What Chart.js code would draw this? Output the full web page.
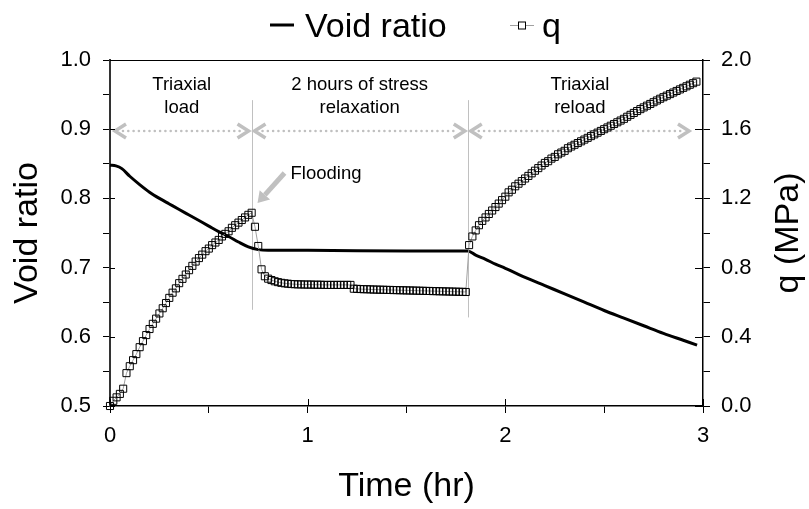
<!DOCTYPE html>
<html lang="en">
<head>
<meta charset="UTF-8">
<title>Void ratio and q vs time</title>
<script src="https://cdn.jsdelivr.net/npm/chart.js"></script>
<style>
  body { margin: 0; background: #fff; }
  #wrap { width: 809px; height: 509px; }
</style>
</head>
<body>
<div id="wrap"><canvas id="myChart" width="809" height="509"></canvas></div>
<script>
const FONT = '"Liberation Sans", Arial, sans-serif';

// void ratio (time in hr)
const eTime = [0, 0.03, 0.06, 0.10, 0.15, 0.20, 0.25, 0.30, 0.35, 0.40, 0.45, 0.50, 0.55, 0.60, 0.65, 0.70, 0.75, 0.80,
  1.00, 1.50, 1.81, 1.85, 1.90, 1.95, 2.00, 2.10, 2.20, 2.30, 2.40, 2.50, 2.60, 2.70, 2.80, 2.90, 2.97];
const eValue = [0.848, 0.847, 0.843, 0.832, 0.820, 0.809, 0.800, 0.792, 0.784, 0.776, 0.768, 0.760, 0.752, 0.745, 0.737, 0.730, 0.726, 0.725,
  0.725, 0.724, 0.724, 0.718, 0.712, 0.705, 0.699, 0.686, 0.674, 0.662, 0.650, 0.638, 0.627, 0.616, 0.605, 0.595, 0.588];

// q readings, one per minute (MPa)
const qMinute = [0, 1, 2, 3, 4, 5, 6, 7, 8, 9, 10, 11, 12, 13, 14, 15, 16, 17, 18, 19, 20, 21, 22, 23, 24, 25, 26, 27, 28, 29,
  30, 31, 32, 33, 34, 35, 36, 37, 38, 39, 40, 41, 42, 43, 44, 45, 46, 47, 48, 49, 50, 51, 52, 53, 54, 55, 56, 57, 58, 59,
  60, 61, 62, 63, 64, 65, 66, 67, 68, 69, 70, 71, 72, 73, 74, 75, 76, 77, 78, 79, 80, 81, 82, 83, 84, 85, 86, 87, 88, 89,
  90, 91, 92, 93, 94, 95, 96, 97, 98, 99, 100, 101, 102, 103, 104, 105, 106, 107, 108, 109, 110, 111, 112, 113, 114, 115, 116, 117, 118, 119,
  120, 121, 122, 123, 124, 125, 126, 127, 128, 129, 130, 131, 132, 133, 134, 135, 136, 137, 138, 139, 140, 141, 142, 143, 144, 145, 146, 147, 148, 149,
  150, 151, 152, 153, 154, 155, 156, 157, 158, 159, 160, 161, 162, 163, 164, 165, 166, 167, 168, 169, 170, 171, 172, 173, 174, 175, 176, 177, 178];
const qValue = [
  // triaxial load
  0.00, 0.03, 0.05, 0.07, 0.10, 0.19, 0.23, 0.265, 0.30, 0.34, 0.375, 0.41, 0.445, 0.475, 0.505, 0.535, 0.565, 0.595, 0.625, 0.655,
  0.68, 0.71, 0.735, 0.76, 0.785, 0.81, 0.835, 0.855, 0.875, 0.895, 0.91, 0.93, 0.945, 0.96, 0.98, 0.995, 1.01, 1.03, 1.045, 1.06,
  1.075, 1.09, 1.105, 1.117,
  // flooding + relaxation
  1.036, 0.925, 0.79, 0.75, 0.736, 0.728, 0.721, 0.716, 0.712, 0.709, 0.707, 0.705,
  0.704, 0.703, 0.703, 0.702, 0.702, 0.702, 0.701, 0.701, 0.701, 0.700, 0.700, 0.700, 0.700, 0.700, 0.700, 0.700, 0.700, 0.700,
  0.678, 0.677, 0.676, 0.675, 0.675, 0.674, 0.673, 0.673, 0.672, 0.672, 0.671, 0.671, 0.670, 0.670, 0.669, 0.669, 0.668, 0.668,
  0.667, 0.667, 0.666, 0.666, 0.665, 0.665, 0.664, 0.664, 0.663, 0.663, 0.662, 0.662, 0.661, 0.661, 0.660, 0.660, 0.659,
  // reload
  0.93, 0.98, 1.015, 1.045, 1.07, 1.09, 1.11, 1.13, 1.15, 1.17, 1.19, 1.21, 1.235, 1.25, 1.27, 1.285, 1.30, 1.315, 1.33, 1.345,
  1.36, 1.375, 1.39, 1.405, 1.415, 1.43, 1.44, 1.455, 1.465, 1.475, 1.49, 1.50, 1.51, 1.52, 1.53, 1.54, 1.55, 1.56, 1.57, 1.58,
  1.59, 1.60, 1.61, 1.62, 1.63, 1.64, 1.65, 1.66, 1.672, 1.683, 1.694, 1.705, 1.716, 1.726, 1.736, 1.746, 1.756, 1.766, 1.776, 1.785,
  1.794, 1.803, 1.812, 1.821, 1.83, 1.839, 1.848, 1.857, 1.866, 1.875];

// test phases (hr) and their captions
const phaseEdges = [0, 0.716, 1.81, 3];
const phaseLabels = [['Triaxial', 'load'], ['2 hours of stress', 'relaxation'], ['Triaxial', 'reload']];
const seriesNames = ['Void ratio', 'q'];

const GREY = '#c0c0c0';

function isStep(v, step) {
  return Math.abs(v / step - Math.round(v / step)) < 1e-6;
}

// minor tick marks only go outward, major ones cross the axis
function innerTicks(ctx, scale, step, len, side) {
  scale.ticks.forEach(t => {
    if (!isStep(t.value, step)) return;
    const p = Math.round(scale.getPixelForValue(t.value)) + 0.5;
    ctx.beginPath();
    if (side === 'x') { ctx.moveTo(p, scale.top); ctx.lineTo(p, scale.top - len); }
    else if (side === 'left') { ctx.moveTo(scale.right, p); ctx.lineTo(scale.right + len, p); }
    else { ctx.moveTo(scale.left, p); ctx.lineTo(scale.left - len, p); }
    ctx.stroke();
  });
}

function chevron(ctx, tipX, y, dir) {
  ctx.beginPath();
  ctx.moveTo(tipX + dir * 11, y - 7);
  ctx.lineTo(tipX, y);
  ctx.lineTo(tipX + dir * 11, y + 7);
  ctx.stroke();
}

const extras = {
  id: 'extras',
  beforeDatasetsDraw(chart) {
    const {ctx, scales: {x, y}} = chart;
    ctx.save();
    // phase boundaries
    ctx.strokeStyle = GREY;
    ctx.lineWidth = 1;
    const bottoms = [0.639, 0.628];
    [phaseEdges[1], phaseEdges[2]].forEach((t, i) => {
      const px = Math.round(x.getPixelForValue(t)) + 0.5;
      ctx.beginPath();
      ctx.moveTo(px, y.getPixelForValue(0.942));
      ctx.lineTo(px, y.getPixelForValue(bottoms[i]));
      ctx.stroke();
    });
    // dotted double arrows with captions
    const ay = Math.round(y.getPixelForValue(0.897));
    for (let i = 0; i < 3; i++) {
      const x0 = x.getPixelForValue(phaseEdges[i]) + (i === 0 ? 5 : 3);
      const x1 = x.getPixelForValue(phaseEdges[i + 1]) - (i === 2 ? 14 : 3);
      ctx.strokeStyle = GREY;
      ctx.lineWidth = 2.6;
      ctx.lineCap = 'round';
      ctx.setLineDash([0, 5.3]);
      ctx.beginPath();
      ctx.moveTo(x0 + 8, ay);
      ctx.lineTo(x1 - 8, ay);
      ctx.stroke();
      ctx.setLineDash([]);
      ctx.lineCap = 'butt';
      ctx.lineJoin = 'miter';
      ctx.lineWidth = 3.5;
      chevron(ctx, x0, ay, 1);
      chevron(ctx, x1, ay, -1);

      ctx.fillStyle = '#000';
      ctx.font = '18.5px ' + FONT;
      ctx.textAlign = 'center';
      ctx.textBaseline = 'middle';
      const cx = (x0 + x1) / 2;
      ctx.fillText(phaseLabels[i][0], cx, ay - 46);
      ctx.fillText(phaseLabels[i][1], cx, ay - 23);
    }
    // flooding note
    const fx = x.getPixelForValue(phaseEdges[1]);
    ctx.textAlign = 'left';
    ctx.textBaseline = 'alphabetic';
    ctx.fillText('Flooding', fx + 39, ay + 48);
    ctx.strokeStyle = GREY;
    ctx.fillStyle = GREY;
    ctx.lineWidth = 5;
    const sx = fx + 33, sy = ay + 42, tx = fx + 6, ty = ay + 72;
    const ang = Math.atan2(ty - sy, tx - sx);
    const bx = tx - Math.cos(ang) * 11, by = ty - Math.sin(ang) * 11;
    ctx.beginPath();
    ctx.moveTo(sx, sy);
    ctx.lineTo(bx, by);
    ctx.stroke();
    ctx.beginPath();
    ctx.moveTo(tx, ty);
    ctx.lineTo(bx + Math.sin(ang) * 7, by - Math.cos(ang) * 7);
    ctx.lineTo(bx - Math.sin(ang) * 7, by + Math.cos(ang) * 7);
    ctx.closePath();
    ctx.fill();
    ctx.restore();
  },
  afterDraw(chart) {
    const {ctx, scales: {x, y, y1}} = chart;
    ctx.save();
    ctx.strokeStyle = '#000';
    ctx.lineWidth = 1;
    innerTicks(ctx, x, 1, 7, 'x');
    innerTicks(ctx, y, 0.1, 5, 'left');
    innerTicks(ctx, y1, 0.4, 8, 'right');

    // right axis title reads bottom-to-top like the left one
    ctx.fillStyle = '#000';
    ctx.font = '34px ' + FONT;
    ctx.textAlign = 'center';
    ctx.textBaseline = 'middle';
    ctx.translate(789, (chart.chartArea.top + chart.chartArea.bottom) / 2);
    ctx.rotate(-Math.PI / 2);
    ctx.fillText('q (MPa)', 0, 0);
    ctx.restore();

    // legend
    ctx.save();
    const ly = 25;
    const ds = chart.data.datasets;
    ctx.strokeStyle = ds[0].borderColor;
    ctx.lineWidth = 3;
    ctx.beginPath(); ctx.moveTo(270, ly); ctx.lineTo(294, ly); ctx.stroke();
    ctx.strokeStyle = ds[1].borderColor;
    ctx.lineWidth = 1;
    ctx.beginPath(); ctx.moveTo(510, ly + 0.5); ctx.lineTo(534, ly + 0.5); ctx.stroke();
    ctx.fillStyle = '#fff';
    ctx.fillRect(518.5, ly - 3, 7, 7);
    ctx.strokeStyle = ds[1].pointBorderColor;
    ctx.strokeRect(518.5, ly - 3, 7, 7);
    ctx.fillStyle = '#000';
    ctx.font = '34px ' + FONT;
    ctx.textBaseline = 'alphabetic';
    ctx.fillText(seriesNames[0], 305, 37);
    ctx.fillText(seriesNames[1], 542, 37);
    ctx.restore();
  }
};

const tickFont = { family: FONT, size: 22 };
const titleFont = { family: FONT, size: 34 };

new Chart(document.getElementById('myChart'), {
  type: 'scatter',
  data: {
    datasets: [
      {
        label: seriesNames[0],
        data: eTime.map((t, i) => ({ x: t, y: eValue[i] })),
        showLine: true,
        borderColor: '#000',
        borderWidth: 3,
        pointRadius: 0,
        cubicInterpolationMode: 'monotone',
        yAxisID: 'y',
        order: 2
      },
      {
        label: seriesNames[1],
        data: qMinute.map((m, i) => ({ x: m / 60, y: qValue[i] })),
        showLine: true,
        borderColor: '#a0a0a0',
        borderWidth: 1,
        pointStyle: 'rect',
        pointRadius: 5,
        pointBorderColor: '#000',
        pointBorderWidth: 1,
        pointBackgroundColor: 'rgba(255,255,255,0)',
        yAxisID: 'y1',
        clip: false,
        order: 1
      }
    ]
  },
  options: {
    responsive: false,
    animation: false,
    devicePixelRatio: 1,
    layout: { padding: 0 },
    plugins: { legend: { display: false }, tooltip: { enabled: false } },
    scales: {
      x: {
        type: 'linear', position: 'bottom', min: 0, max: 3,
        afterFit: s => { s.height = 103; },
        border: { color: '#000', width: 1.5 },
        grid: { drawOnChartArea: false, tickLength: 7, color: '#000' },
        ticks: {
          stepSize: 0.5, padding: 10, color: '#000', font: tickFont, maxRotation: 0,
          callback: v => isStep(v, 1) ? String(Math.round(v)) : ''
        },
        title: { display: true, text: 'Time (hr)', color: '#000', font: titleFont, padding: { top: 0, bottom: 2 } }
      },
      top: {
        type: 'linear', position: 'top', min: 0, max: 3,
        afterFit: s => { s.height = 60; },
        border: { color: '#000', width: 1 },
        grid: { display: false },
        ticks: { display: false }
      },
      y: {
        type: 'linear', position: 'left', min: 0.5, max: 1.0,
        afterFit: s => { s.width = 110; },
        border: { color: '#333', width: 2 },
        grid: { drawOnChartArea: false, tickLength: 7, color: '#000' },
        ticks: {
          stepSize: 0.05, padding: 12, color: '#000', font: tickFont,
          callback: v => isStep(v, 0.1) ? v.toFixed(1) : ''
        },
        title: { display: true, text: 'Void ratio', color: '#000', font: titleFont, padding: { top: 7, bottom: 0 } }
      },
      y1: {
        type: 'linear', position: 'right', min: 0, max: 2,
        afterFit: s => { s.width = 106; },
        border: { color: '#000', width: 1.5 },
        grid: { drawOnChartArea: false, tickLength: 7, color: '#000' },
        ticks: {
          stepSize: 0.2, padding: 11, color: '#000', font: tickFont,
          callback: v => isStep(v, 0.4) ? v.toFixed(1) : ''
        }
      }
    }
  },
  plugins: [extras]
});
</script>
</body>
</html>
